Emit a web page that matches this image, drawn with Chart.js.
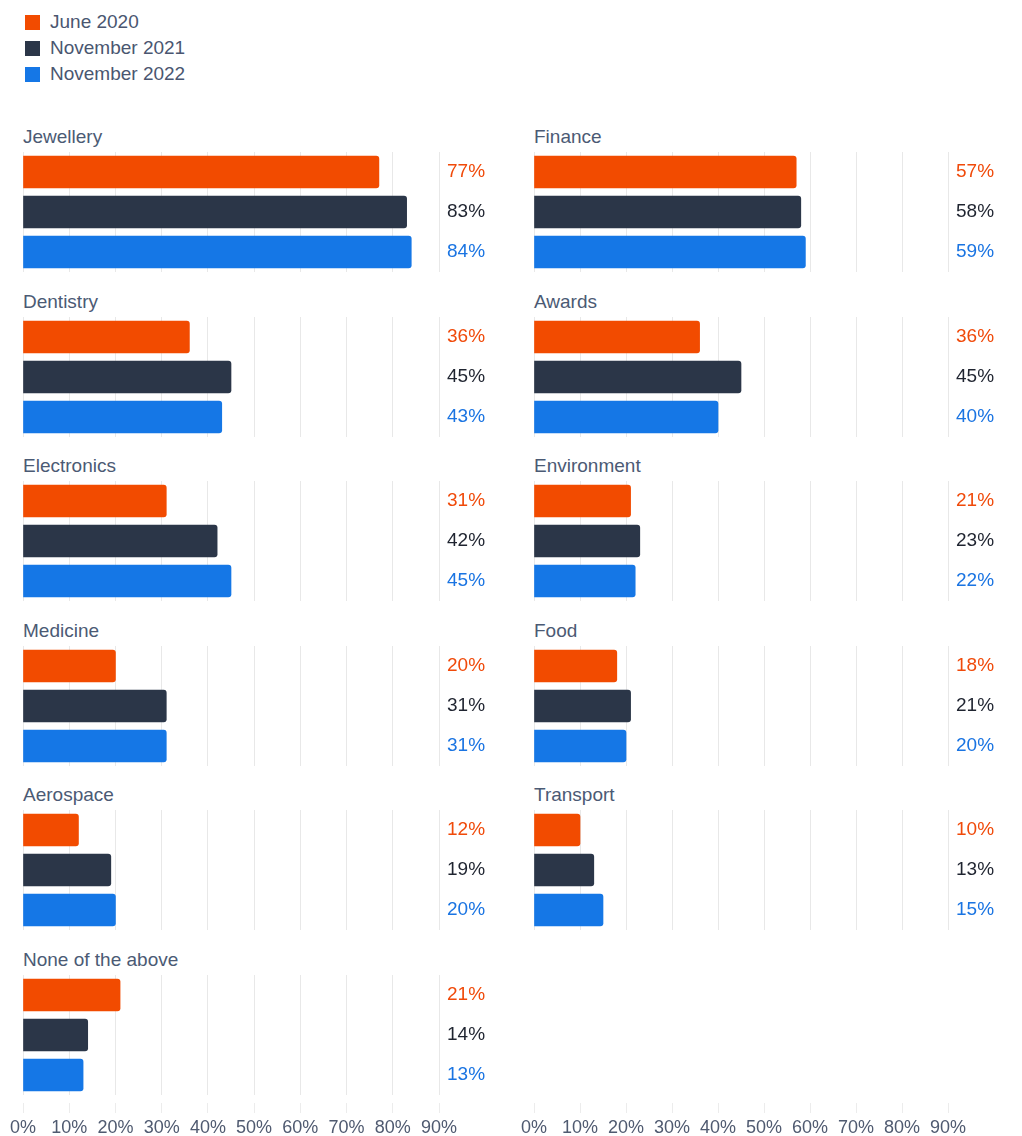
<!DOCTYPE html>
<html>
<head>
<meta charset="utf-8">
<title>Sectors</title>
<script src="https://cdn.jsdelivr.net/npm/chart.js@4/dist/chart.umd.min.js"></script>
<style>
  body { margin: 0; background: #fff; font-family: "Liberation Sans", Arial, sans-serif; }
  #wrap { position: relative; width: 1022px; height: 1136px; overflow: hidden; }
  .legend-item { position: absolute; left: 25px; font-size: 19px; line-height: 20px; color: #4a5670; white-space: nowrap; }
  .legend-item span { display: inline-block; width: 15px; height: 15px; margin-right: 10px; vertical-align: -2px; }
  .panel-title { position: absolute; font-size: 19px; line-height: 20px; color: #4b5a74; white-space: nowrap; }
  canvas { position: absolute; }
</style>
</head>
<body>
<div id="wrap"></div>
<script>
  // data
  const seriesLabels = ["June 2020", "November 2021", "November 2022"];
  const categories = ["Jewellery", "Dentistry", "Electronics", "Medicine", "Aerospace", "None of the above",
    "Finance", "Awards", "Environment", "Food", "Transport"];
  const june2020 = [77, 36, 31, 20, 12, 21, 57, 36, 21, 18, 10];
  const november2021 = [83, 45, 42, 31, 19, 14, 58, 45, 23, 21, 13];
  const november2022 = [84, 43, 45, 31, 20, 13, 59, 40, 22, 20, 15];
  const tickValues = [0, 10, 20, 30, 40, 50, 60, 70, 80, 90];

  const barColors = ["#f24b00", "#2b3648", "#1577e6"];
  const textColors = ["#f04a0a", "#1f2430", "#1a74e2"];
  const fontFamily = "'Liberation Sans', Arial, sans-serif";
  const wrap = document.getElementById("wrap");

  // legend
  seriesLabels.forEach(function (label, i) {
    const item = document.createElement("div");
    item.className = "legend-item";
    item.style.top = 12 + i * 26 + "px";
    item.innerHTML = '<span style="background:' + barColors[i] + '"></span>' + label;
    wrap.appendChild(item);
  });

  // columns: left 6 panels, right 5 panels
  const columns = [
    { left: 0, width: 500, padLeft: 23, padRight: 61 },
    { left: 511, width: 511, padLeft: 23, padRight: 74 },
  ];

  const valueLabels = {
    id: "valueLabels",
    afterDatasetsDraw(chart) {
      const ctx = chart.ctx;
      const area = chart.chartArea;
      const ds = chart.data.datasets[0];
      const meta = chart.getDatasetMeta(0);
      if (!meta.data.length) return;
      ctx.save();
      ctx.font = "19px " + fontFamily;
      ctx.textBaseline = "middle";
      ctx.textAlign = "left";
      meta.data.forEach(function (bar, i) {
        ctx.fillStyle = textColors[i];
        ctx.fillText(ds.data[i] + "%", area.right + 8, bar.y);
      });
      ctx.restore();
    },
  };

  function addCanvas(col, top, height) {
    const c = document.createElement("canvas");
    c.width = col.width;
    c.height = height;
    c.style.left = col.left + "px";
    c.style.top = top + "px";
    wrap.appendChild(c);
    return c;
  }

  categories.forEach(function (name, k) {
    const colIdx = k < 6 ? 0 : 1;
    const row = k < 6 ? k : k - 6;
    const col = columns[colIdx];
    const step = 164.6;

    const title = document.createElement("div");
    title.className = "panel-title";
    title.textContent = name;
    title.style.left = col.left + col.padLeft + "px";
    title.style.top = Math.round(127 + row * step) + "px";
    wrap.appendChild(title);

    const canvas = addCanvas(col, Math.round(152 + row * step), 120);
    new Chart(canvas, {
      type: "bar",
      data: {
        labels: seriesLabels,
        datasets: [
          {
            data: [june2020[k], november2021[k], november2022[k]],
            backgroundColor: barColors,
            barThickness: 32,
            borderRadius: 3,
          },
        ],
      },
      options: {
        indexAxis: "y",
        responsive: false,
        animation: false,
        devicePixelRatio: 1,
        layout: { padding: { left: col.padLeft, right: col.padRight, top: 0, bottom: 0 } },
        plugins: { legend: { display: false }, tooltip: { enabled: false } },
        scales: {
          x: {
            min: 0,
            max: 90,
            ticks: { display: false, stepSize: 10 },
            grid: { color: "#e8e8e8", drawTicks: false },
            border: { display: false },
          },
          y: { display: false },
        },
      },
      plugins: [valueLabels],
    });
  });

  // bottom axes
  columns.forEach(function (col) {
    const canvas = addCanvas(col, 1070, 66);
    new Chart(canvas, {
      type: "bar",
      data: { labels: [], datasets: [] },
      options: {
        indexAxis: "y",
        responsive: false,
        animation: false,
        devicePixelRatio: 1,
        layout: { padding: { left: col.padLeft, right: col.padRight, top: 0, bottom: 0 } },
        plugins: { legend: { display: false }, tooltip: { enabled: false } },
        scales: {
          x: {
            type: "linear",
            min: tickValues[0],
            max: tickValues[tickValues.length - 1],
            afterBuildTicks: function (scale) {
              scale.ticks = tickValues.map(function (v) { return { value: v }; });
            },
            ticks: {
              autoSkip: false,
              maxRotation: 0,
              padding: 4,
              color: "#4f5a70",
              font: { family: fontFamily, size: 18 },
              callback: function (v) { return v + "%"; },
            },
            grid: { drawOnChartArea: false, color: "#ececec", tickLength: 10 },
            border: { display: false },
          },
          y: { display: false },
        },
      },
    });
  });
</script>
</body>
</html>
